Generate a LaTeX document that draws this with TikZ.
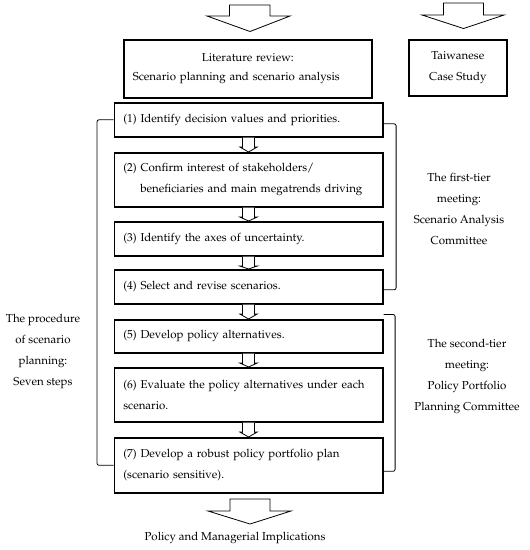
\documentclass[tikz,border=0pt]{standalone}
\usepackage[T1]{fontenc}
\usepackage{palatino}
\usetikzlibrary{calc}
\newcommand\fs{\fontsize{11.5}{21}\selectfont}
\newcommand\downarr[2]{\draw[arrowline] let \p1=(#1.south), \p2=(#2.north) in
  (\x1-6pt,\y1) -- (\x1-6pt,\y1-9.5pt) -- (\x1-8.5pt,\y1-9.5pt) -- (\x1,\y2)
  -- (\x1+8.5pt,\y1-9.5pt) -- (\x1+6pt,\y1-9.5pt) -- (\x1+6pt,\y1);}
\begin{document}
\begin{tikzpicture}[x=1pt,y=-1pt,
  stepbox/.style={draw, line width=1.6pt, minimum width=268.5pt, text width=250.5pt,
    inner xsep=9pt, inner ysep=0pt, align=left, font=\fs, anchor=north west},
  topbox/.style={draw, line width=1.6pt, inner sep=0pt, font=\fs, anchor=north west},
  label/.style={align=center, font=\fs, inner sep=0pt},
  arrowline/.style={draw, line width=0.8pt, fill=white, line join=miter},
  bracket/.style={draw, line width=0.8pt, rounded corners=2pt}]
\useasboundingbox (0,0) rectangle (530,550);

% top boxes
\node[topbox, minimum width=248pt, minimum height=58pt, text width=230pt, align=left,
  inner xsep=9pt, font=\fontsize{11.5}{19}\selectfont] (lit) at (123,39)
  {\makebox[230pt][c]{Literature review:}\\Scenario planning and scenario analysis};
\node[topbox, minimum width=98pt, minimum height=56pt, align=center] (tw) at (408,39)
  {Taiwanese\\Case Study};

% big top arrows
\draw[arrowline] (229.5,5) -- (229.5,16) -- (207,16) -- (250,31.5) -- (290,16) -- (270,16) -- (270,5) -- cycle;
\draw[arrowline] (443.5,3) -- (443.5,15) -- (422,15) -- (463.5,28.5) -- (504,15) -- (483.5,15) -- (483.5,3) -- cycle;

% steps
\node[stepbox, minimum height=34pt] (b1) at (113.5,102) {(1) Identify decision values and priorities.};
\node[stepbox, minimum height=54pt] (b2) at (113.5,152) {(2) Confirm interest of stakeholders/\\\hspace*{17pt}beneficiaries and main megatrends driving};
\node[stepbox, minimum height=34pt] (b3) at (113.5,221) {(3) Identify the axes of uncertainty.};
\node[stepbox, minimum height=34pt] (b4) at (113.5,269) {(4) Select and revise scenarios.};
\node[stepbox, minimum height=33pt] (b5) at (113.5,319) {(5) Develop policy alternatives.};
\node[stepbox, minimum height=54pt] (b6) at (113.5,367) {(6) Evaluate the policy alternatives under each\\scenario.};
\node[stepbox, minimum height=55pt] (b7) at (113.5,437) {(7) Develop a robust policy portfolio plan\\(scenario sensitive).};

\downarr{b1}{b2}
\downarr{b2}{b3}
\downarr{b3}{b4}
\downarr{b4}{b5}
\downarr{b5}{b6}
\downarr{b6}{b7}

% bottom
\node[font=\fs, inner sep=0pt] (impl) at (235,538) {Policy and Managerial Implications};
\draw[arrowline] (230,499) -- (230,511) -- (208,511) -- (250,524) -- (291,511) -- (270,511) -- (270,499) -- cycle;

% brackets
\draw[bracket] (b1.west) -- ++(-16.5,0) |- ($(b7.west)+(0,0)$);
\draw[bracket] ($(b1.east)+(0,4)$) -- ++(12.5,0) |- ($(b4.east)+(0,3)$);
\draw[bracket] ($(b5.north east)+(0,-4.5)$) -- ++(11.5,0) |- ($(b7.east)+(0,6)$);

% labels
\node[label] (lp) at (43,351) {The procedure\\of scenario\\planning:\\Seven steps};
\node[label] (l1) at (459,208.5) {The first-tier\\meeting:\\Scenario Analysis\\Committee};
\node[label] (l2) at (467,376) {The second-tier\\meeting:\\Policy Portfolio\\Planning Committee};
\end{tikzpicture}
\end{document}
